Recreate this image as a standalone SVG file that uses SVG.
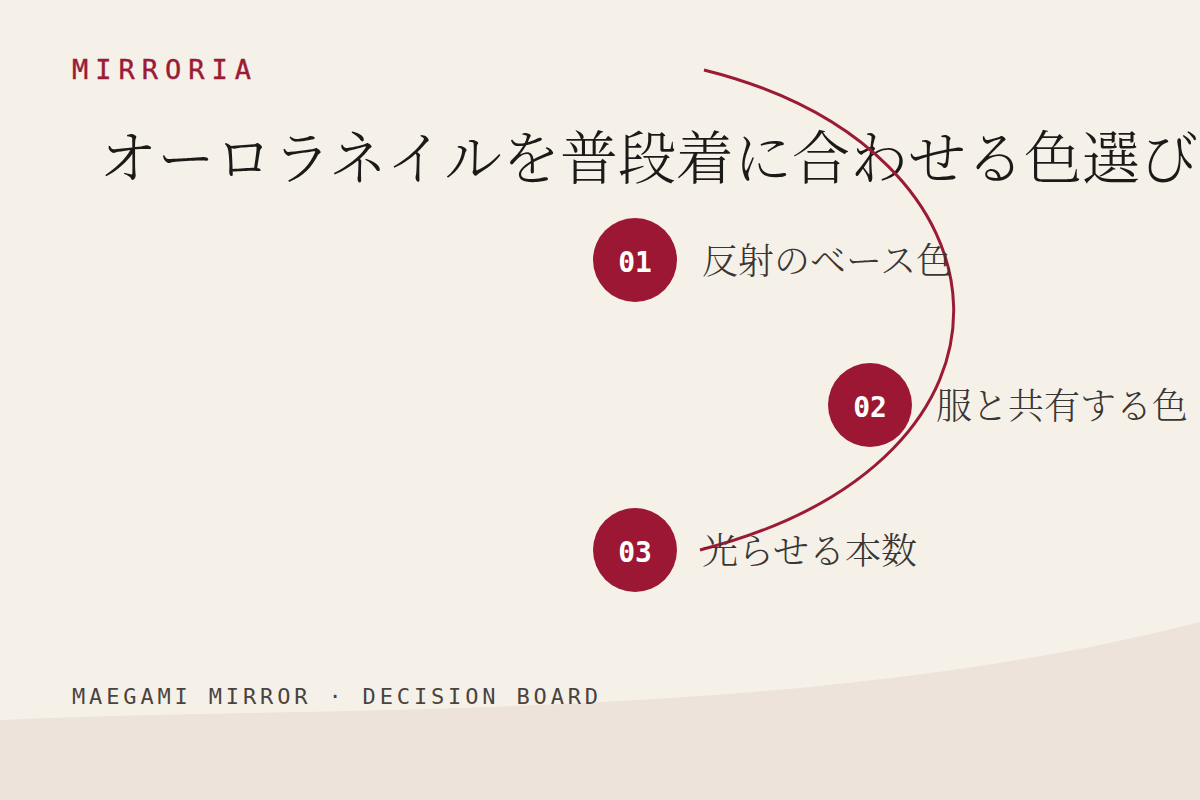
<svg xmlns="http://www.w3.org/2000/svg" width="1200" height="800" viewBox="0 0 1200 800">
<style>
.brand{font-family:"DejaVu Sans Mono","Liberation Mono",monospace;font-size:27px;letter-spacing:7px;fill:#9b1b35;stroke:#9b1b35;stroke-width:0.4}
.foot{font-family:"DejaVu Sans Mono","Liberation Mono",monospace;font-size:22px;letter-spacing:3.85px;fill:#4a4440}
.title{font-family:"Noto Serif CJK JP",serif;font-size:58px;font-weight:300;fill:#1c1a19}
.num{font-family:"DejaVu Sans Mono","Liberation Mono",monospace;font-size:28px;font-weight:bold;fill:#ffffff;text-anchor:middle}
.lbl{font-family:"Noto Serif CJK JP",serif;font-size:36px;font-weight:300;fill:#3a3633}
.dot{fill:#9b1733}
.arc{fill:none;stroke:#9b1b35;stroke-width:3}
</style>
<rect width="1200" height="800" fill="#f5f1e9"/>
<path d="M0 720 C300 705 800 725 1200 622 L1200 800 L0 800 Z" fill="#ede3da"/>
<text class="brand" x="72" y="79">MIRRORIA</text>
<text class="title" x="99" y="179">オーロラネイルを普段着に合わせる色選び</text>
<g id="connectors">
<path class="arc" d="M704 70 C1025 150 1050 460 700 550"/>
</g>
<g id="node1">
<circle class="dot" cx="635" cy="260" r="42"/>
<text class="num" x="635" y="272">01</text>
<text class="lbl" x="702" y="274">反射のベース色</text>
</g>
<g id="node2">
<circle class="dot" cx="870" cy="405" r="42"/>
<text class="num" x="870" y="417">02</text>
<text class="lbl" x="936" y="419">服と共有する色</text>
</g>
<g id="node3">
<circle class="dot" cx="635" cy="550" r="42"/>
<text class="num" x="635" y="562">03</text>
<text class="lbl" x="702" y="564">光らせる本数</text>
</g>
<text class="foot" x="72" y="704">MAEGAMI MIRROR · DECISION BOARD</text>
</svg>
